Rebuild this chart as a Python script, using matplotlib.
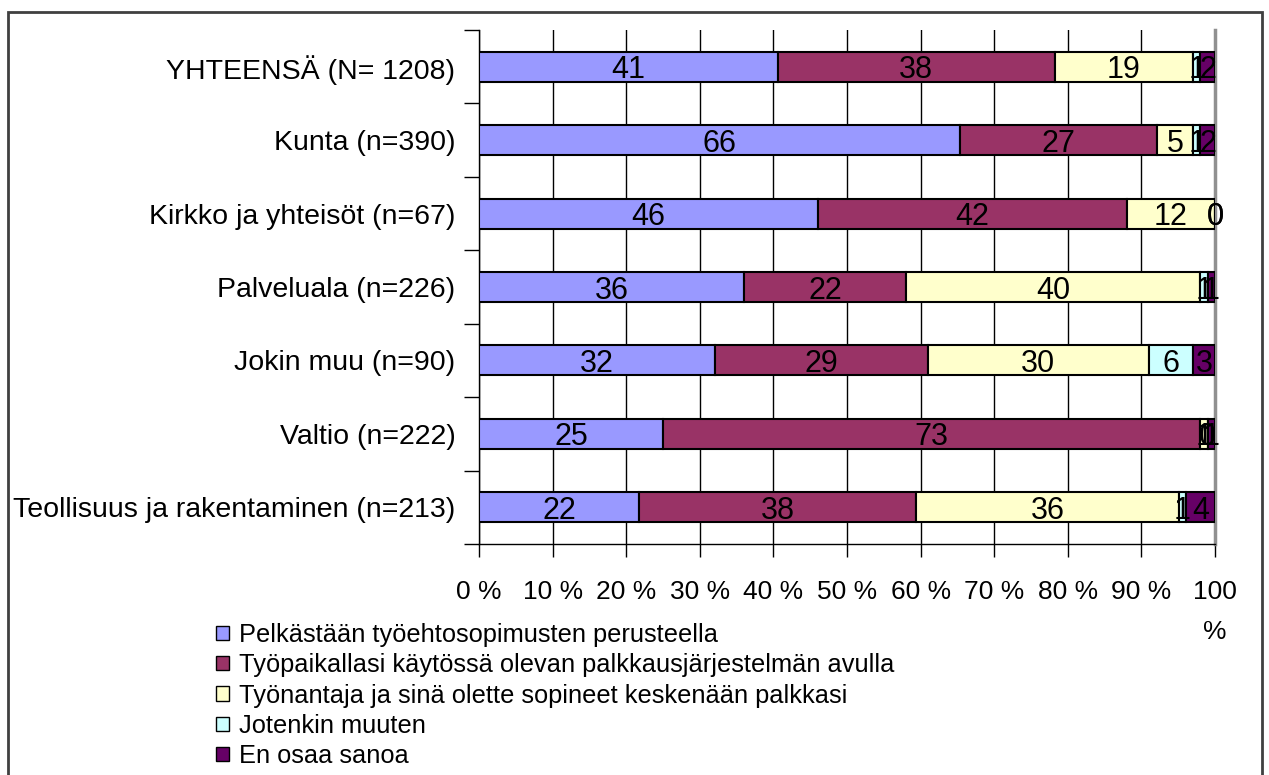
import matplotlib
matplotlib.use("Agg")
import matplotlib.pyplot as plt
from matplotlib.patches import Patch, Rectangle
import numpy as np

plt.rcParams['font.family'] = ['Liberation Sans', 'DejaVu Sans']

categories = ["YHTEENSÄ (N= 1208)", "Kunta (n=390)", "Kirkko ja yhteisöt (n=67)",
              "Palveluala (n=226)", "Jokin muu (n=90)", "Valtio (n=222)",
              "Teollisuus ja rakentaminen (n=213)"]
series_names = ["Pelkästään työehtosopimusten perusteella",
                "Työpaikallasi käytössä olevan palkkausjärjestelmän avulla",
                "Työnantaja ja sinä olette sopineet keskenään palkkasi",
                "Jotenkin muuten",
                "En osaa sanoa"]
s1 = [41, 66, 46, 36, 32, 25, 22]
s2 = [38, 27, 42, 22, 29, 73, 38]
s3 = [19, 5, 12, 40, 30, 1, 36]
s4 = [1, 1, 0, 1, 6, 0, 1]
s5 = [2, 2, 0, 1, 3, 1, 4]
colors = ["#9999FF", "#993366", "#FFFFCC", "#CCFFFF", "#660066"]
xtick_labels = ["0 %", "10 %", "20 %", "30 %", "40 %", "50 %", "60 %", "70 %", "80 %", "90 %", "100\n%"]

data = np.array([s1, s2, s3, s4, s5], dtype=float)
totals = data.sum(axis=0)
pct = data / totals * 100

fig = plt.figure(figsize=(12.69, 7.75), dpi=100)
W, H = 1269, 775
ax = fig.add_axes([479 / W, 1 - 544 / H, (1215 - 479) / W, (544 - 30) / H])

y = np.arange(len(categories))
left = np.zeros(len(categories))
for i in range(5):
    ax.barh(y, pct[i], left=left, height=0.41, color=colors[i],
            edgecolor="black", linewidth=1.5, zorder=3)
    for j in range(len(categories)):
        cx = left[j] + pct[i][j] / 2
        ax.text(cx, y[j], f"{int(data[i][j])}", ha="center", va="center_baseline",
                fontsize=22, color="black", zorder=4)
    left += pct[i]

ax.set_xlim(0, 100)
ax.set_ylim(len(categories) - 0.5, -0.5)
ax.set_xticks(np.arange(0, 101, 10))
ax.set_xticklabels(xtick_labels, fontsize=19, linespacing=1.85, va="top")
ax.tick_params(axis="x", direction="out", length=9, width=1, pad=17)
ax.set_yticks(y)
ax.set_yticklabels(categories, fontsize=20.5)
ax.tick_params(axis="y", which="major", length=0, pad=17)
ax.set_yticks(np.arange(-0.5, len(categories)), minor=True)
ax.tick_params(axis="y", which="minor", direction="out", length=11, width=1)
ax.grid(axis="x", color="black", linewidth=1, zorder=0)
ax.spines["top"].set_visible(False)
ax.spines["right"].set_color("#909090")
ax.spines["right"].set_linewidth(2.5)
ax.spines["left"].set_linewidth(1)
ax.spines["bottom"].set_linewidth(1)

handles = [Patch(facecolor=c, edgecolor="black", linewidth=1) for c in colors]
fig.legend(handles, series_names, loc="upper left",
           bbox_to_anchor=(198 / W, 1 - 605 / H), frameon=False, fontsize=18.3,
           handlelength=0.5, handleheight=0.5, handletextpad=0.4,
           labelspacing=0.25, borderpad=0.2)

fig.patches.append(Rectangle((8 / W, -0.05), (1262 - 8) / W, 1 - 12 / H + 0.05,
                             transform=fig.transFigure, fill=False,
                             edgecolor="#404040", linewidth=2))

fig.savefig("out.png", dpi=100)
